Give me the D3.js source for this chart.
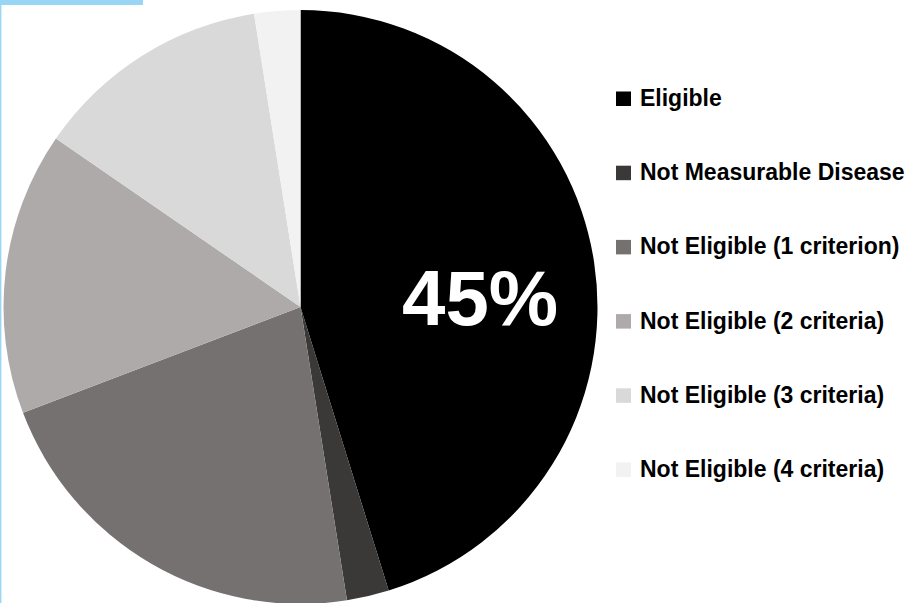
<!DOCTYPE html>
<html>
<head>
<meta charset="utf-8">
<script src="https://cdn.jsdelivr.net/npm/d3@7"></script>
<style>
  html, body { margin: 0; padding: 0; background: #fff; overflow: hidden; }
  svg { display: block; }
</style>
</head>
<body>
<div id="grafico"></div>
<script>
/*************************** DATA ***************************/
var categorias = ['Eligible', 'Not Measurable Disease', 'Not Eligible (1 criterion)',
                  'Not Eligible (2 criteria)', 'Not Eligible (3 criteria)', 'Not Eligible (4 criteria)'];
var valores = [45.2, 2.3, 21.7, 15.4, 12.9, 2.5];     // % of patients
var cores = ['#000000', '#3b3838', '#767171', '#aeaaaa', '#d9d9d9', '#f2f2f2'];
var rotulo = '45%';                                   // label printed inside the Eligible slice

/*************************** LAYOUT ***************************/
var largura = 912, altura = 603;
var centroX = 300.5, centroY = 307, raio = 297;
var azulClaro = '#99d6f6';

var svg = d3.select('#grafico')
    .append('svg')
    .attr('width', largura)
    .attr('height', altura);

// thin light-blue frame pieces from the slide
svg.append('rect').attr('x', 0).attr('y', 0).attr('width', 143).attr('height', 5).style('fill', azulClaro);
svg.append('rect').attr('x', 0).attr('y', 0).attr('width', 1.4).attr('height', altura).style('fill', azulClaro);

var cor = d3.scaleOrdinal().domain(categorias).range(cores);

var pie = d3.pie().sort(null).value(function(d) { return d.valor; });
var arco = d3.arc().innerRadius(0).outerRadius(raio);

var dados = categorias.map(function(c, i) { return { nome: c, valor: valores[i] }; });

var gPizza = svg.append('g')
    .attr('transform', 'translate(' + centroX + ',' + centroY + ')');

gPizza.selectAll('path')
    .data(pie(dados))
    .enter()
    .append('path')
    .attr('d', arco)
    .style('fill', function(d) { return cor(d.data.nome); });

// big percentage label on the Eligible slice
gPizza.append('text')
    .text(rotulo)
    .attr('x', raio * 0.605)
    .attr('y', 18)
    .attr('text-anchor', 'middle')
    .style('font-family', '"Liberation Sans", Arial, sans-serif')
    .style('font-weight', 'bold')
    .style('font-size', '78px')
    .style('fill', '#ffffff');

/*************************** LEGEND ***************************/
var legendaY = d3.scalePoint().domain(categorias).range([106, 477]);

var gLegenda = svg.append('g');

var itens = gLegenda.selectAll('g')
    .data(categorias)
    .enter()
    .append('g')
    .attr('transform', function(d) { return 'translate(616,' + legendaY(d) + ')'; });

itens.append('rect')
    .attr('x', 0)
    .attr('y', -14.5)
    .attr('width', 15)
    .attr('height', 14.5)
    .style('fill', function(d) { return cor(d); });

itens.append('text')
    .text(function(d) { return d; })
    .attr('x', 24)
    .attr('y', 0)
    .style('font-family', '"Liberation Sans", Arial, sans-serif')
    .style('font-weight', 'bold')
    .style('font-size', '23px')
    .style('fill', '#000000');
</script>
</body>
</html>
